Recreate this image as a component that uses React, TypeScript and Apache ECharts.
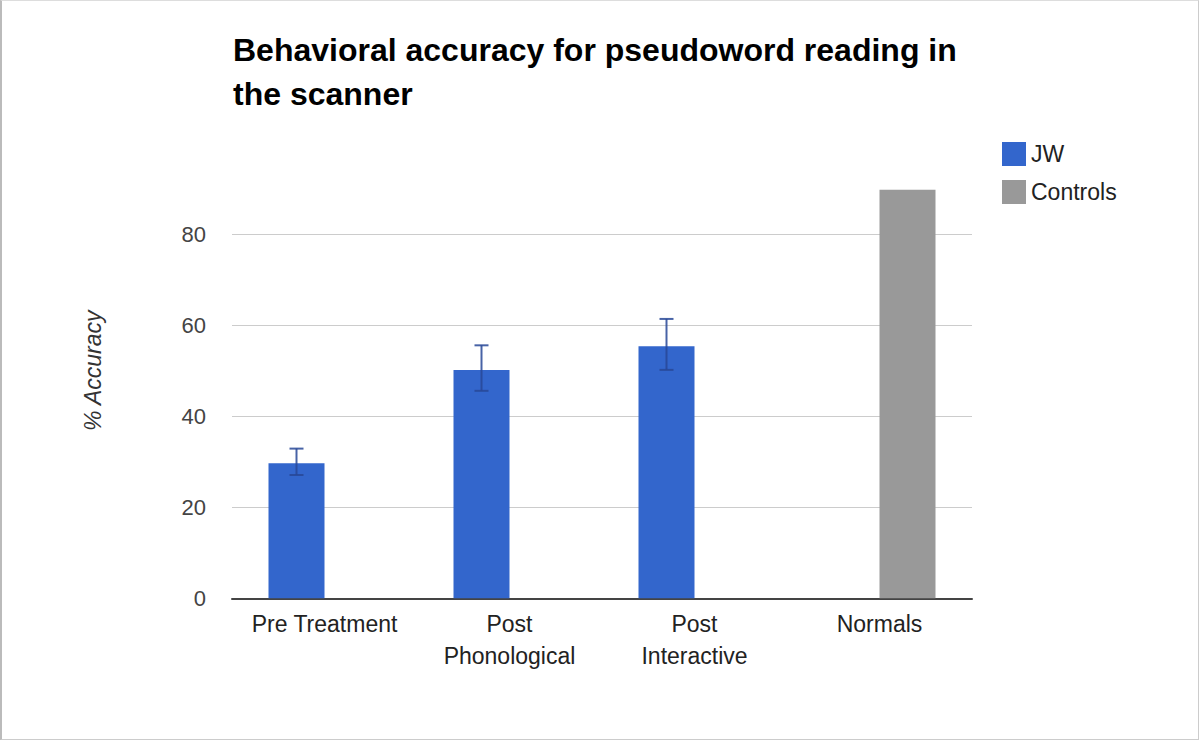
import React, { useEffect, useRef } from "react";
import * as echarts from "echarts";

const categories = ["Pre Treatment", "Post\nPhonological", "Post\nInteractive", "Normals"];
const jwValues = [29.7, 50.2, 55.4, null];
const controlValues = [null, null, null, 89.8];
const jwErrLow = [27.1, 45.6, 50.2];
const jwErrHigh = [32.9, 55.6, 61.4];
const yTicks = [0, 20, 40, 60, 80, 100];

const BAR_W = 56;

export default function App() {
  const ref = useRef<HTMLDivElement>(null);
  useEffect(() => {
    document.body.style.margin = "0";
    const chart = echarts.init(ref.current!, null, { renderer: "svg" });
    const font = "'Liberation Sans', Arial, sans-serif";
    const errData = jwErrLow.map((lo, i) => [i, lo, jwErrHigh[i]]);
    chart.setOption({
      animation: false,
      textStyle: { fontFamily: font },
      title: {
        text: "Behavioral accuracy for pseudoword reading in\nthe scanner",
        left: 228,
        top: 23,
        textStyle: { fontSize: 32, fontWeight: "bold", color: "#000", lineHeight: 44, fontFamily: font },
      },
      legend: {
        orient: "vertical",
        left: 997,
        top: 137,
        itemWidth: 24,
        itemHeight: 24,
        itemGap: 14,
        icon: "rect",
        data: ["JW", "Controls"],
        textStyle: { fontSize: 23, color: "#222", fontFamily: font },
      },
      grid: { left: 232, right: 227, top: 143.3, bottom: 141.7 },
      xAxis: {
        type: "category",
        data: categories,
        axisLine: { lineStyle: { color: "#444", width: 2 } },
        axisTick: { show: false },
        axisLabel: { interval: 0, fontSize: 23, color: "#222", lineHeight: 32, margin: 10, fontFamily: font },
      },
      yAxis: {
        type: "value",
        min: 0,
        max: 100,
        interval: 20,
        name: "% Accuracy",
        nameLocation: "middle",
        nameGap: 128,
        nameTextStyle: { fontSize: 23, fontStyle: "italic", color: "#333", fontFamily: font },
        axisLine: { show: false },
        axisTick: { show: false },
        axisLabel: {
          fontSize: 22,
          color: "#444",
          margin: 26,
          fontFamily: font,
          formatter: (v: number) => (v === yTicks[yTicks.length - 1] ? "" : String(v)),
        },
        splitLine: {
          lineStyle: { color: ["#ccc", "#ccc", "#ccc", "#ccc", "#ccc", "rgba(0,0,0,0)"], width: 1 },
        },
      },
      series: [
        {
          name: "JW",
          type: "bar",
          data: jwValues,
          barWidth: BAR_W,
          barGap: "0%",
          itemStyle: { color: "#3366cc" },
        },
        {
          name: "Controls",
          type: "bar",
          data: controlValues,
          barWidth: BAR_W,
          barGap: "0%",
          itemStyle: { color: "#999999" },
        },
        {
          type: "custom",
          name: "JW error",
          data: errData,
          z: 10,
          renderItem: (params: any, api: any) => {
            const lo = api.coord([api.value(0), api.value(1)]);
            const hi = api.coord([api.value(0), api.value(2)]);
            const x = lo[0] - BAR_W / 2;
            const cap = 7;
            const style = { stroke: "rgba(40,72,150,0.85)", lineWidth: 2 };
            return {
              type: "group",
              children: [
                { type: "line", shape: { x1: x, y1: lo[1], x2: x, y2: hi[1] }, style },
                { type: "line", shape: { x1: x - cap, y1: lo[1], x2: x + cap, y2: lo[1] }, style },
                { type: "line", shape: { x1: x - cap, y1: hi[1], x2: x + cap, y2: hi[1] }, style },
              ],
            };
          },
        },
      ],
    });
    return () => chart.dispose();
  }, []);
  return (
    <div style={{ position: "relative", width: 1199, height: 740 }}>
      <div ref={ref} style={{ width: 1199, height: 740 }} />
      <div
        style={{
          position: "absolute",
          left: 0,
          top: 0,
          width: 1199,
          height: 740,
          boxSizing: "border-box",
          borderLeft: "2px solid #bbb",
          borderRight: "1px solid #ccc",
          borderBottom: "1px solid #ccc",
          borderTop: "1px solid #ddd",
          pointerEvents: "none",
        }}
      />
    </div>
  );
}
